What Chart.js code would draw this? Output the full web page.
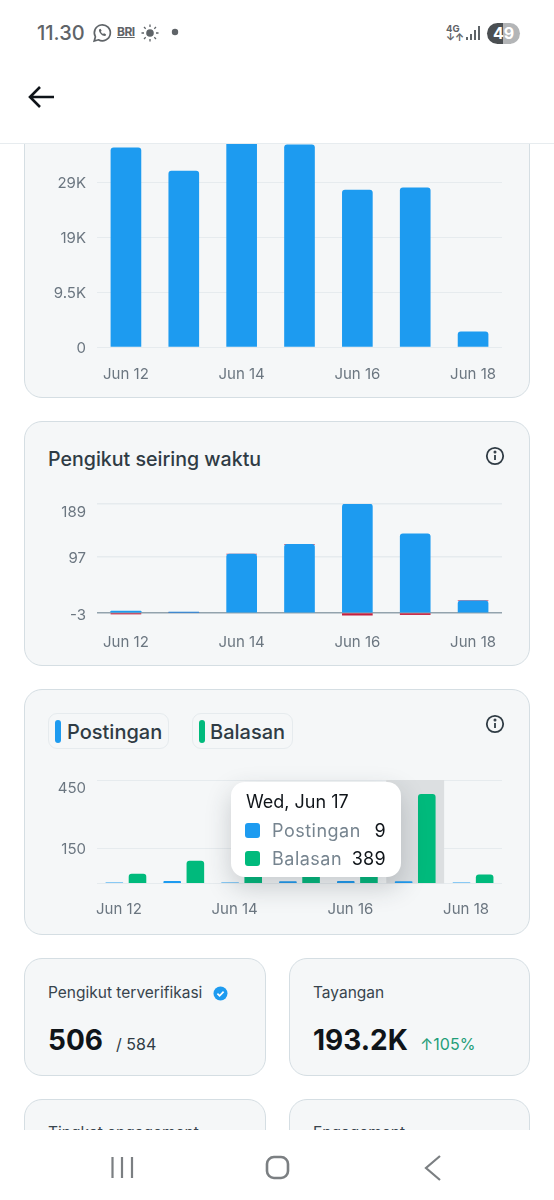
<!DOCTYPE html>
<html>
<head>
<meta charset="utf-8">
<title>Pengikut seiring waktu</title>
<script src="https://cdn.jsdelivr.net/npm/chart.js@4"></script>
<style>
  html, body { margin: 0; padding: 0; background: #fff; }
  body { width: 554px; height: 1200px; position: relative; overflow: hidden; font-family: Inter, "Noto Sans", sans-serif; color: #2f3b44; }
  .abs { position: absolute; white-space: nowrap; }
  .card { position: absolute; box-sizing: border-box; background: #f5f7f8; border: 1px solid #d5dee3; border-radius: 18px; }
  canvas { position: absolute; }
  #header { position: absolute; left: 0; top: 0; width: 554px; height: 144px; background: #fff; border-bottom: 1px solid #e7ecef; box-sizing: border-box; z-index: 5; }
  #navbar { position: absolute; left: 0; top: 1130px; width: 554px; height: 70px; background: #fff; z-index: 5; }
  .chip { position: absolute; box-sizing: border-box; height: 36px; top: 713px; border: 1px solid #e6ebee; border-radius: 9px; }
  .stripe { position: absolute; top: 720px; width: 6px; height: 23px; border-radius: 3px; }
  .chip-text { font-size: 20px; font-weight: 500; line-height: 24px; top: 720px; }
  .small-label { font-size: 15.5px; line-height: 20px; top: 983px; color: #38444d; }
  .big { font-size: 28px; font-weight: 700; line-height: 36px; top: 1022px; color: #0f1419; }
  #tooltip { position: absolute; left: 231px; top: 782px; width: 170px; height: 95px; background: #fff; border-radius: 14px; box-shadow: 0 10px 26px rgba(40,50,60,.22); }
  #tooltip div { position: absolute; white-space: nowrap; }
  .tip-box { left: 14px; width: 15px; height: 15px; border-radius: 3px; }
  .tip-name { left: 41px; font-size: 18px; line-height: 24px; color: #76848f; letter-spacing: .5px; }
  .tip-val { right: 15px; font-size: 18px; line-height: 24px; color: #0f1419; letter-spacing: .3px; }
</style>
</head>
<body>

<div class="card" style="left:24px;top:60px;width:506px;height:338px"></div>
<div class="card" style="left:24px;top:421px;width:506px;height:245px"></div>
<div class="card" style="left:24px;top:689px;width:506px;height:246px"></div>

<canvas id="impressionsChart" width="504" height="292" style="left:25px;top:100px"></canvas>
<canvas id="followersChart" width="504" height="161" style="left:25px;top:494px"></canvas>
<canvas id="postsChart" width="504" height="155" style="left:25px;top:770px"></canvas>

<div class="abs" style="left:48px;top:447px;font-size:19.6px;font-weight:500;line-height:24px">Pengikut seiring waktu</div>
<svg class="abs" style="left:485px;top:446px" width="20" height="20" viewBox="0 0 20 20" fill="none" stroke="#2f3b44" stroke-width="1.8"><circle cx="10" cy="10" r="8.2"/><path d="M10 9v5"/><circle cx="10" cy="6" r=".6"/></svg>
<svg class="abs" style="left:485px;top:714px" width="20" height="20" viewBox="0 0 20 20" fill="none" stroke="#2f3b44" stroke-width="1.8"><circle cx="10" cy="10" r="8.2"/><path d="M10 9v5"/><circle cx="10" cy="6" r=".6"/></svg>

<div class="chip" style="left:48px;width:121px"></div>
<div class="stripe" style="left:55px;background:#1d9bf0"></div>
<div class="abs chip-text" style="left:67px">Postingan</div>
<div class="chip" style="left:192px;width:101px"></div>
<div class="stripe" style="left:199px;background:#00ba7c"></div>
<div class="abs chip-text" style="left:210px">Balasan</div>

<div id="tooltip">
  <div id="tipTitle" style="left:15px;top:8px;font-size:18px;line-height:24px;color:#0f1419"></div>
  <div class="tip-box" style="top:41px;background:#1d9bf0"></div>
  <div class="tip-name" style="top:37px" id="tipName0"></div>
  <div class="tip-val" style="top:37px" id="tipVal0"></div>
  <div class="tip-box" style="top:69px;background:#00ba7c"></div>
  <div class="tip-name" style="top:65px" id="tipName1"></div>
  <div class="tip-val" style="top:65px" id="tipVal1"></div>
</div>

<!-- stat cards -->
<div class="card" style="left:24px;top:958px;width:242px;height:118px"></div>
<div class="card" style="left:289px;top:958px;width:241px;height:118px"></div>
<div class="card" style="left:24px;top:1099px;width:242px;height:118px"></div>
<div class="card" style="left:289px;top:1099px;width:241px;height:118px"></div>
<div class="abs small-label" style="left:48px">Pengikut terverifikasi</div>
<svg class="abs" style="left:212px;top:985px" width="17" height="17" viewBox="0 0 17 17"><circle cx="8.5" cy="8.5" r="7" fill="#1d9bf0"/><path d="M5.4 8.6l2.2 2.2 4-4.2" fill="none" stroke="#fff" stroke-width="1.7"/></svg>
<div class="abs big" style="left:48px">506</div>
<div class="abs" style="left:116px;top:1034px;font-size:16px;line-height:20px;color:#2f3b44">/ 584</div>
<div class="abs small-label" style="left:313px">Tayangan</div>
<div class="abs big" style="left:313px">193.2K</div>
<div class="abs" style="left:420px;top:1034px;font-size:16px;line-height:20px;color:#1f9e78">↑105%</div>
<div class="abs small-label" style="left:48px;top:1123px">Tingkat engagement</div>
<div class="abs small-label" style="left:313px;top:1123px">Engagement</div>

<div id="header">
  <div class="abs" style="left:37px;top:21px;font-size:20px;font-weight:500;line-height:24px;color:#5f6468">11.30</div>
  <svg class="abs" style="left:92px;top:23px" width="20" height="20" viewBox="0 0 20 20" fill="none" stroke="#5f6468" stroke-width="1.7"><path d="M2.2 18l1.2-4.2a8 8 0 1 1 3 3z"/><path d="M7 6.5c-.6 3 3.5 7 6.500 6.500l.5-1.800-2-1-1 .8c-1-.5-1.700-1.200-2.200-2.300l.8-1-1-2z" fill="#5f6468" stroke="none"/></svg>
  <div class="abs" style="left:117px;top:24px;font-size:12px;font-weight:700;line-height:15px;color:#5f6468;letter-spacing:-.5px;text-decoration:underline">BRI</div>
  <svg class="abs" style="left:141px;top:24px" width="18" height="18" viewBox="0 0 18 18" stroke="#5f6468" stroke-width="1.300"><circle cx="9" cy="9" r="3.800" fill="#5f6468" stroke="none"/><path d="M9 .5v2.500M9 15v2.500M.5 9H3M15 9h2.500M3 3l1.700 1.700M13.300 13.300L15 15M3 15l1.700-1.700M13.300 4.700L15 3"/></svg>
  <svg class="abs" style="left:171px;top:28px" width="8" height="8"><circle cx="4" cy="4" r="3.200" fill="#5f6468"/></svg>
  <div class="abs" style="left:446px;top:24px;font-size:9.500px;font-weight:700;line-height:10px;color:#5f6468">4G</div>
  <div class="abs" style="left:446px;top:32px;font-size:10px;font-weight:700;line-height:10px;color:#5f6468">↓↑</div>
  <svg class="abs" style="left:465px;top:25px" width="16" height="16" fill="#5f6468"><rect x="1" y="12" width="2" height="3"/><rect x="5" y="9" width="2" height="6"/><rect x="9" y="5" width="2" height="10"/><rect x="13" y="1" width="2" height="14"/></svg>
  <div class="abs" style="left:487px;top:23px;width:33px;height:21px;border-radius:11px;background:linear-gradient(90deg,#4b4f52 0 50%,#b3b5b7 50% 100%);color:#fff;font-size:16px;font-weight:700;line-height:21px;text-align:center">49</div>
  <svg class="abs" style="left:27px;top:84px" width="28" height="26" viewBox="0 0 28 26" fill="none" stroke="#0f1419" stroke-width="2.600"><path d="M27 13H3M13 3L3 13l10 10"/></svg>
</div>

<div id="navbar">
  <svg class="abs" style="left:0;top:0" width="554" height="70" fill="none" stroke="#7b7f82" stroke-width="2.200"><path d="M112.500 27v21M122 27v21M132 27v21"/><rect x="267" y="27" width="21" height="21" rx="7" stroke-width="2.600"/><path d="M440 26l-14 12 14 12"/></svg>
</div>

<script>
// Shared x axis
const categories = ["Jun 12", "Jun 13", "Jun 14", "Jun 15", "Jun 16", "Jun 17", "Jun 18"];

// Top chart (cut off by the header)
const impressions = [34400, 30400, 36000, 34900, 27100, 27500, 2600];
const impressionTicks = [0, 9500, 19000, 28500, 38000];
const impressionTickLabels = ["0", "9.5K", "19K", "29K", "38K"];

// Pengikut seiring waktu
const followersGained = [3, 1, 102, 119, 189, 137, 21];
const followersLost = [-2, 0, 0, 0, -4, -3, 0];
const followerTicks = [-3, 0, 97, 189];
const followerTickLabels = ["-3", "", "97", "189"];

// Postingan / Balasan
const seriesNames = ["Postingan", "Balasan"];
const posts = [4, 10, 4, 9, 10, 9, 4];
const replies = [42, 99, 60, 45, 50, 389, 39];
const postTicks = [0, 150, 450];
const postTickLabels = ["", "150", "450"];
const activeDay = 5;
const activeDayTitle = "Wed, Jun 17";

const BLUE = "#1d9bf0";
const GREEN = "#00ba7c";
const RED = "#c4213f";
const GRID = "#e6ebee";
const TICK_FONT = { family: "Inter", size: 15, lineHeight: 1 };

Chart.defaults.animation = false;
Chart.defaults.responsive = false;
Chart.defaults.plugins.legend.display = false;
Chart.defaults.plugins.tooltip.enabled = false;

// The top label sits below its gridline in the reference, an empty first line pushes it down
function yLabel(labels, i, lastIndex) {
    return i === lastIndex ? ["", labels[i]] : labels[i];
}

function xAxis(xHeight, labelOffset, stacked, padding) {
    return {
        stacked: stacked,
        grid: { display: false },
        border: { display: false },
        ticks: {
            autoSkip: false,
            maxRotation: 0,
            padding: padding,
            labelOffset: labelOffset,
            color: "#6b7680",
            font: TICK_FONT,
            callback: function (value, index) {
                return index % 2 === 0 ? categories[index] : "";
            }
        },
        afterFit: function (scale) {
            scale.height = xHeight;
            scale.paddingLeft = 0;
            scale.paddingRight = 0;
        }
    };
}

function yAxis(values, labels, stacked, lineColor) {
    return {
        stacked: stacked,
        min: values[0],
        max: values[values.length - 1],
        grid: { drawTicks: false, color: lineColor || GRID, lineWidth: lineColor ? 1.5 : 1 },
        border: { display: false },
        ticks: {
            autoSkip: false,
            padding: 11,
            labelOffset: 1,
            color: "#6b7680",
            font: TICK_FONT,
            callback: function (value, index) {
                return yLabel(labels, index, values.length - 1);
            }
        },
        afterBuildTicks: function (scale) {
            scale.ticks = values.map(function (v) { return { value: v }; });
        },
        afterFit: function (scale) {
            scale.width = 72;
            scale.paddingTop = 0;
            scale.paddingBottom = 0;
        }
    };
}

// Top chart
new Chart(document.getElementById("impressionsChart"), {
    type: "bar",
    data: {
        labels: categories,
        datasets: [{ data: impressions, backgroundColor: BLUE, barThickness: 30, borderRadius: 3 }]
    },
    options: {
        layout: { padding: { top: 27, right: 27 } },
        scales: {
            x: xAxis(45, 0, false, 12),
            y: yAxis(impressionTicks, impressionTickLabels, false)
        }
    }
});

// Followers chart, the zero line is darker than the others
new Chart(document.getElementById("followersChart"), {
    type: "bar",
    data: {
        labels: categories,
        datasets: [
            { data: followersGained, backgroundColor: BLUE, barThickness: 30, borderRadius: 3, borderSkipped: "bottom" },
            { data: followersLost, backgroundColor: RED, barThickness: 30, clip: false }
        ]
    },
    options: {
        layout: { padding: { top: 10, right: 27 } },
        scales: {
            x: xAxis(40.4, 0, true, 12),
            y: yAxis(followerTicks, followerTickLabels, true, function (ctx) {
                if (ctx.tick.value === 0) return "#93a3ad";
                return ctx.tick.value === followerTicks[0] ? "rgba(0,0,0,0)" : GRID;
            })
        }
    }
});

// Grey band behind the selected day
const activeBand = {
    id: "activeBand",
    beforeDatasetsDraw: function (chart) {
        const x = chart.scales.x;
        const half = (x.getPixelForTick(1) - x.getPixelForTick(0)) / 2;
        const center = x.getPixelForTick(activeDay);
        const area = chart.chartArea;
        chart.ctx.save();
        chart.ctx.fillStyle = "#dcdfe1";
        chart.ctx.fillRect(center - half, area.top, half * 2, area.bottom - area.top);
        chart.ctx.restore();
    }
};

new Chart(document.getElementById("postsChart"), {
    type: "bar",
    data: {
        labels: categories,
        datasets: [
            { label: seriesNames[0], data: posts, backgroundColor: BLUE, borderRadius: 1 },
            { label: seriesNames[1], data: replies, backgroundColor: GREEN, borderRadius: 3 }
        ]
    },
    options: {
        categoryPercentage: 0.8,
        barPercentage: 0.76,
        layout: { padding: { top: 10, right: 27 } },
        scales: {
            x: xAxis(41.6, -7, false, 11),
            y: yAxis(postTicks, postTickLabels, false)
        }
    },
    plugins: [activeBand]
});

// Tooltip contents
document.getElementById("tipTitle").textContent = activeDayTitle;
document.getElementById("tipName0").textContent = seriesNames[0];
document.getElementById("tipVal0").textContent = posts[activeDay];
document.getElementById("tipName1").textContent = seriesNames[1];
document.getElementById("tipVal1").textContent = replies[activeDay];
</script>
</body>
</html>
